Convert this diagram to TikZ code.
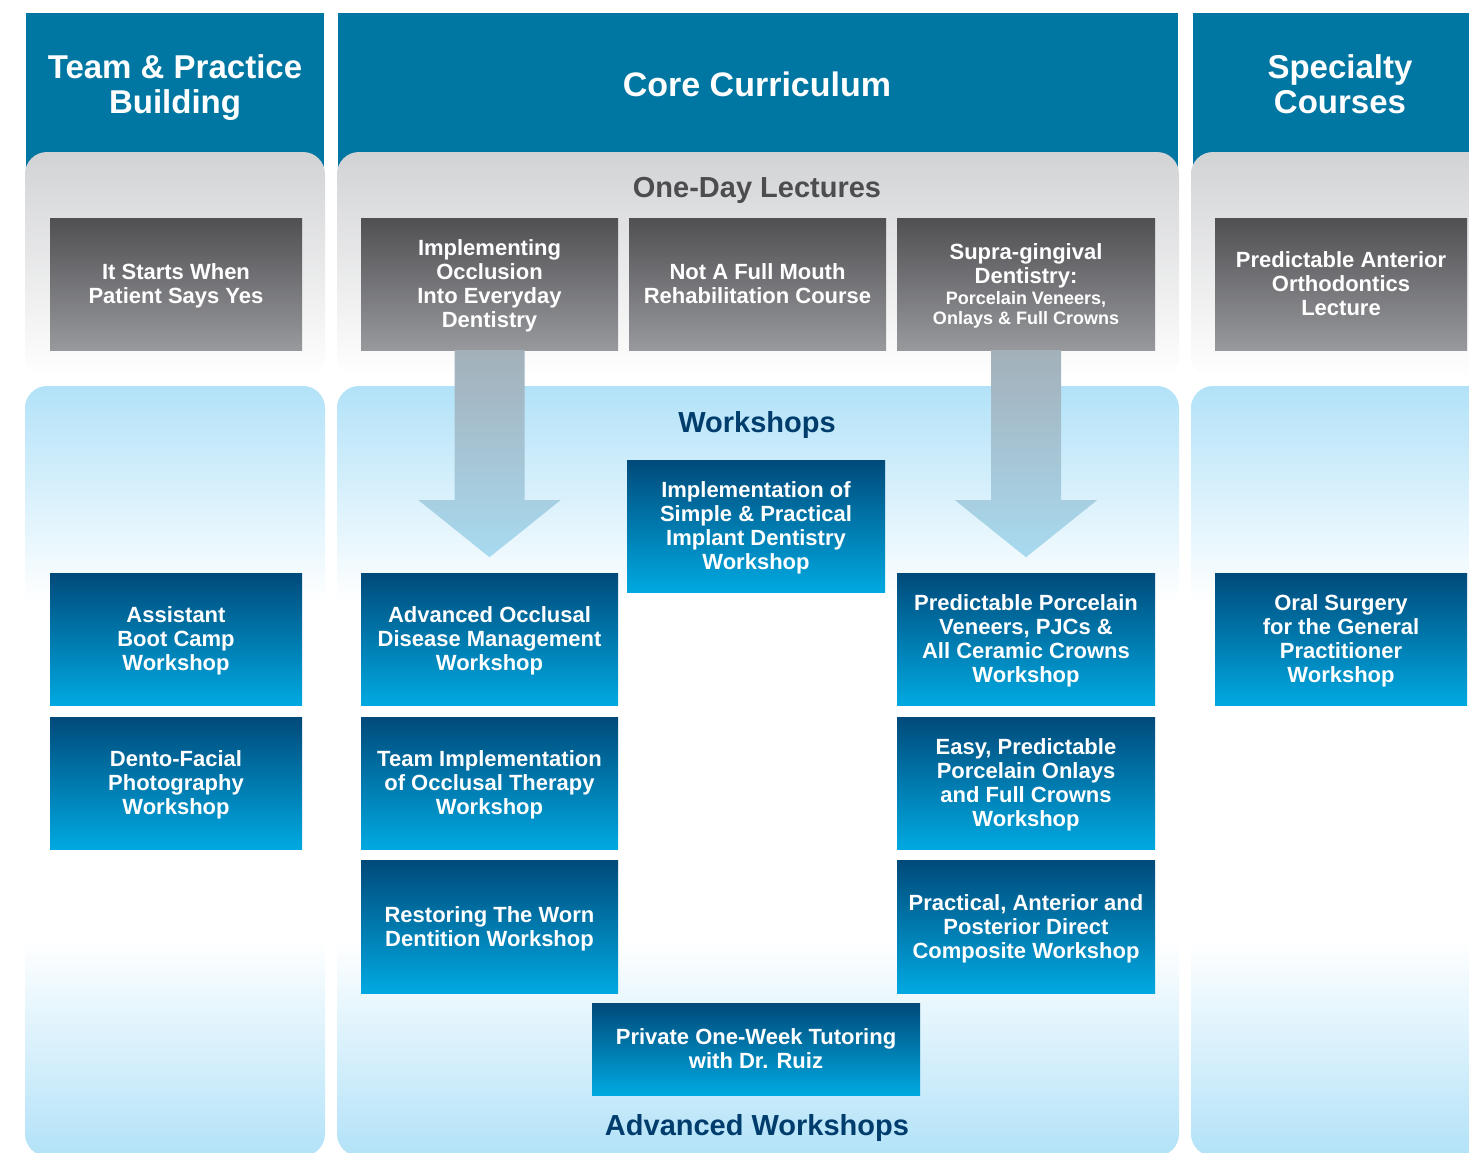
\documentclass[tikz,border=0pt]{standalone}
\usepackage{fontspec}
\setmainfont{Liberation Sans}
\usepackage{pgf,tikz}
\usetikzlibrary{arrows}
\definecolor{hdrblue}{RGB}{0,118,162}
\definecolor{paneltop}{RGB}{210,211,213}
\definecolor{panelblue}{RGB}{178,226,248}
\definecolor{lecttop}{RGB}{80,80,83}
\definecolor{lectbot}{RGB}{152,153,157}
\definecolor{wstop}{RGB}{0,74,122}
\definecolor{wsbot}{RGB}{0,169,225}
\definecolor{arrtop}{RGB}{163,176,185}
\definecolor{arrbot}{RGB}{168,218,240}
\definecolor{titlegray}{RGB}{77,77,79}
\definecolor{titleblue}{RGB}{0,61,108}
\pgfdeclareverticalshading{wspanel}{100bp}{color(0bp)=(panelblue); color(25bp)=(panelblue); color(39bp)=(white); color(61bp)=(white); color(75bp)=(panelblue); color(100bp)=(panelblue)}

\begin{document}
\begin{tikzpicture}[line cap=round,line join=round,x=1pt,y=-1pt,
  colhead/.style={text=white,align=center,text depth=0pt,font=\fontsize{33}{35}\selectfont\bfseries},
  rowtitle/.style={text depth=0pt,font=\fontsize{29}{31}\selectfont\bfseries},
  lecture/.style={top color=lecttop,bottom color=lectbot,minimum width=257pt,minimum height=132pt,inner sep=0pt,text depth=0pt,text=white,align=center,font=\fontsize{22}{24}\selectfont\bfseries},
  workshop/.style={top color=wstop,bottom color=wsbot,minimum width=257pt,minimum height=132pt,inner sep=0pt,text depth=0pt,text=white,align=center,font=\fontsize{22}{24}\selectfont\bfseries},
  bigarrow/.style={top color=arrtop,bottom color=arrbot}]
\clip (0,0) rectangle (1469,1153);
\fill[hdrblue] (26,13) rectangle (324,175);
\fill[hdrblue] (338,13) rectangle (1178,175);
\fill[hdrblue] (1193,13) rectangle (1490,175);
\shade[top color=paneltop,bottom color=white,rounded corners=22pt] (25,152) rectangle (325,378);
\shade[top color=paneltop,bottom color=white,rounded corners=22pt] (337,152) rectangle (1179,378);
\shade[top color=paneltop,bottom color=white,rounded corners=22pt] (1191,152) rectangle (1491,378);
\shade[shading=wspanel,rounded corners=22pt] (25,386) rectangle (325,1156);
\shade[shading=wspanel,rounded corners=22pt] (337,386) rectangle (1179,1156);
\shade[shading=wspanel,rounded corners=22pt] (1191,386) rectangle (1491,1156);
\node[colhead] (teamhdr) at (175,84) {Team \& Practice\\Building};
\node[colhead,font=\fontsize{34}{36}\selectfont\bfseries] (corehdr) at (757,84) {Core Curriculum};
\node[colhead] (spechdr) at (1340,84) {Specialty\\Courses};
\node[rowtitle,text=titlegray] (onedaytitle) at (757,187) {One-Day Lectures};
\node[rowtitle,text=titleblue] (workshoptitle) at (757,422) {Workshops};
\node[rowtitle,text=titleblue] (advtitle) at (757,1125) {Advanced Workshops};
\node[lecture,minimum width=252pt] (itstarts) at (176,284) {It Starts When\\Patient Says Yes};
\node[lecture] (occlusion) at (489.5,284) {Implementing\\Occlusion\\Into Everyday\\Dentistry};
\node[lecture] (notfull) at (757.5,284) {Not A Full Mouth\\Rehabilitation Course};
\node[lecture,minimum width=258pt] (supra) at (1026,284) {Supra-gingival\\Dentistry:\\[-3pt]{\fontsize{18}{21}\selectfont Porcelain Veneers,}\\[-4pt]{\fontsize{18}{21}\selectfont Onlays \& Full Crowns}};
\node[lecture,minimum width=252pt] (ortho) at (1341,284) {Predictable Anterior\\Orthodontics\\Lecture};
\shade[bigarrow,shift={(occlusion.south)}] (-35,0) -- (35,0) -- (35,150) -- (71,150) -- (0,207) -- (-71,150) -- (-35,150) -- cycle;
\shade[bigarrow,shift={(supra.south)}] (-35,0) -- (35,0) -- (35,150) -- (71,150) -- (0,207) -- (-71,150) -- (-35,150) -- cycle;
\node[workshop,minimum width=252pt] (bootcamp) at (176,639) {Assistant\\Boot Camp\\Workshop};
\node[workshop,minimum width=252pt] (photo) at (176,783) {Dento-Facial\\Photography\\Workshop};
\node[workshop] (advocc) at (489.5,639) {Advanced Occlusal\\Disease Management\\Workshop};
\node[workshop] (teamocc) at (489.5,783) {Team Implementation\\of Occlusal Therapy\\Workshop};
\node[workshop,minimum height=133pt] (worn) at (489.5,926.5) {Restoring The Worn\\Dentition Workshop};
\node[workshop,minimum width=258pt] (implant) at (756,526) {Implementation of\\Simple \& Practical\\Implant Dentistry\\Workshop};
\node[workshop,minimum width=258pt] (veneers) at (1026,639) {Predictable Porcelain\\Veneers, PJCs \&\\All Ceramic Crowns\\Workshop};
\node[workshop,minimum width=258pt] (onlays) at (1026,783) {Easy, Predictable\\Porcelain Onlays\\and Full Crowns\\Workshop};
\node[workshop,minimum width=258pt,minimum height=133pt] (composite) at (1026,926.5) {Practical, Anterior and\\Posterior Direct\\Composite Workshop};
\node[workshop,minimum width=328pt,minimum height=92pt] (tutor) at (756,1049) {Private One-Week Tutoring\\with Dr. Ruiz};
\node[workshop,minimum width=252pt] (oralsurg) at (1341,639) {Oral Surgery\\for the General\\Practitioner\\Workshop};
\end{tikzpicture}
\end{document}
